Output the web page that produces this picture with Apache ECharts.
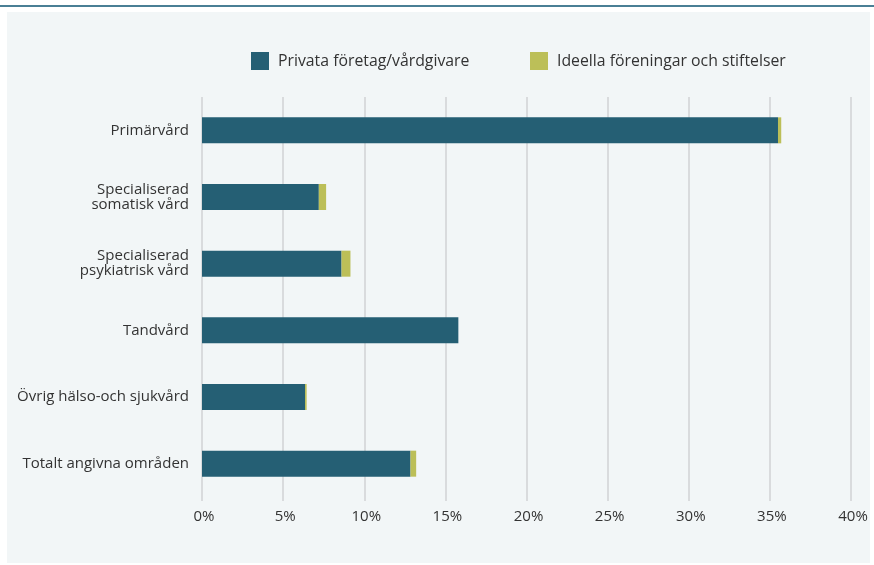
<!DOCTYPE html>
<html>
<head>
<meta charset="utf-8">
<script src="https://cdn.jsdelivr.net/npm/echarts@6/dist/echarts.min.js"></script>
<style>
  html, body { margin: 0; padding: 0; background: #ffffff; }
  #chart { width: 874px; height: 565px; }
</style>
</head>
<body>
<div id="chart"></div>
<script>
// Vårdområden (uppifrån och ned)
const categories = [
  'Primärvård',
  'Specialiserad\nsomatisk vård',
  'Specialiserad\npsykiatrisk vård',
  'Tandvård',
  'Övrig hälso-och sjukvård',
  'Totalt angivna områden'
];

// Andel (%) per utförartyp
const privataForetag = [35.5, 7.2, 8.6, 15.8, 6.35, 12.85];
const ideellaForeningar = [0.2, 0.45, 0.55, 0, 0.1, 0.35];

// Tickvärden på x-axeln
const xTicks = [0, 5, 10, 15, 20, 25, 30, 35, 40];

const seriesNames = ['Privata företag/vårdgivare', 'Ideella föreningar och stiftelser'];
const colors = ['#255f74', '#bcbf58'];

const font = '"Open Sans", "DejaVu Sans", sans-serif';
const chart = echarts.init(document.getElementById('chart'));

const legendText = { fontFamily: font, fontSize: 15.8, color: '#333333', padding: [0, 0, 0, 4] };

chart.setOption({
  backgroundColor: '#ffffff',
  animation: false,
  textStyle: { fontFamily: font },
  graphic: [
    { type: 'rect', z: -10, shape: { x: 7, y: 12, width: 863, height: 551 }, style: { fill: '#f2f6f7' } },
    { type: 'rect', z: -10, shape: { x: 0, y: 5, width: 874, height: 2 }, style: { fill: '#4a7f95' } }
  ],
  legend: [
    {
      left: 246, top: 47, itemWidth: 18, itemHeight: 18, icon: 'rect',
      data: [seriesNames[0]], textStyle: legendText
    },
    {
      left: 525, top: 47, itemWidth: 18, itemHeight: 18, icon: 'rect',
      data: [seriesNames[1]], textStyle: legendText
    }
  ],
  grid: { left: 202, right: 23, top: 97, bottom: 68, containLabel: false },
  xAxis: {
    type: 'value',
    min: xTicks[0],
    max: xTicks[xTicks.length - 1],
    interval: 5,
    axisLine: { show: false },
    axisTick: { show: true, length: 4, lineStyle: { color: '#d9dbdd', width: 2 } },
    splitLine: { show: true, lineStyle: { color: '#d9dbdd', width: 2 } },
    axisLabel: {
      margin: 12,
      fontSize: 15,
      color: '#333333',
      fontFamily: font,
      padding: [0, 0, 0, 4],
      formatter: v => v + '%'
    }
  },
  yAxis: {
    type: 'category',
    inverse: true,
    data: categories,
    axisLine: { show: false },
    axisTick: { show: false },
    axisLabel: {
      margin: 13,
      fontSize: 15,
      lineHeight: 15,
      color: '#333333',
      fontFamily: font,
      align: 'right'
    }
  },
  series: [
    {
      name: seriesNames[0],
      type: 'bar',
      stack: 'andel',
      barWidth: 26,
      itemStyle: { color: colors[0] },
      data: privataForetag
    },
    {
      name: seriesNames[1],
      type: 'bar',
      stack: 'andel',
      barWidth: 26,
      itemStyle: { color: colors[1] },
      data: ideellaForeningar
    }
  ]
});
</script>
</body>
</html>
